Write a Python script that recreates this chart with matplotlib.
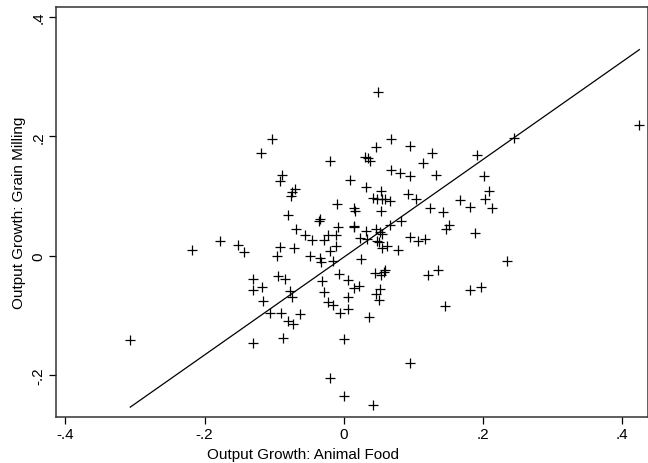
import matplotlib
matplotlib.use("Agg")
import matplotlib.pyplot as plt
import numpy as np

plt.rcParams['font.family'] = ['Liberation Sans', 'DejaVu Sans']

# output growth, animal food (x) vs grain milling (y)
animal_food = [
    -0.3068, -0.2177, -0.1774, -0.1520, -0.1432, -0.1305, -0.1305, -0.1178, -0.1167, -0.1307,
    -0.1032, -0.1185, -0.0888, -0.0922, -0.0697, -0.0747, -0.0761, -0.0807, -0.0338, -0.0359,
    -0.0687, -0.0553, -0.0457, -0.0290, -0.0233, -0.0111, -0.0115, -0.0912, -0.0721, -0.0194,
    -0.0960, -0.0481, -0.0338, -0.0330, -0.0151, -0.0941, -0.0841, -0.0316, -0.0290, -0.0769,
    -0.0744, -0.0223, -0.0158, -0.1063, -0.0898, -0.0625, -0.0800, -0.0726, -0.0874, -0.0204,
    -0.0003, -0.0098, -0.0194, -0.0089, -0.0065, -0.0057, 0.0000,
    0.0491, 0.0678, 0.0457, 0.0955, 0.0309, 0.0342, 0.0371, 0.1141, 0.0678, 0.0802,
    0.0945, 0.0093, 0.0312, 0.0534, 0.0424, 0.0481, 0.0546, 0.0586, 0.0658, 0.0915,
    0.1042, 0.0145, 0.0165, 0.0534, 0.0826, 0.0668, 0.0141, 0.0151,
    0.0467, 0.0316, 0.0517, 0.0553, 0.0237, 0.0330, 0.0481, 0.0503, 0.0546, 0.0621,
    0.0773, 0.0955, 0.1063, 0.1164, 0.0244, 0.0453, 0.0539, 0.0586, 0.0572, 0.0055,
    0.0141, 0.0213, 0.0055, 0.0055, 0.0467, 0.0519, 0.0500, 0.0356, 0.0955, 0.0424,
    0.1272, 0.1914, 0.2450, 0.4246, 0.1329, 0.2019, 0.2080, 0.2033, 0.2129, 0.1664,
    0.1818, 0.1233, 0.1420, 0.1516, 0.1473, 0.1889, 0.2345, 0.1207, 0.1348, 0.1810,
    0.1968, 0.1454,
]
grain_milling = [
    -0.1411, 0.0092, 0.0251, 0.0184, 0.0067, -0.0385, -0.0564, -0.0524, -0.0748, -0.1459,
    0.1953, 0.1719, 0.1356, 0.1260, 0.1121, 0.1066, 0.1009, 0.0678, 0.0624, 0.0581,
    0.0457, 0.0346, 0.0271, 0.0273, 0.0346, 0.0348, 0.0167, 0.0156, 0.0129, 0.0080,
    -0.0008, 0.0000, -0.0042, -0.0095, -0.0092, -0.0340, -0.0393, -0.0418, -0.0608, -0.0594,
    -0.0691, -0.0775, -0.0817, -0.0954, -0.0962, -0.0976, -0.1096, -0.1138, -0.1377, -0.2042,
    -0.2351, 0.0870, 0.1595, 0.0485, -0.0306, -0.0954, -0.1389,
    0.2745, 0.1958, 0.1824, 0.1844, 0.1652, 0.1645, 0.1593, 0.1556, 0.1443, 0.1396,
    0.1334, 0.1265, 0.1155, 0.1088, 0.0976, 0.0946, 0.0949, 0.0954, 0.0926, 0.1029,
    0.0946, 0.0810, 0.0758, 0.0753, 0.0582, 0.0512, 0.0507, 0.0480,
    0.0452, 0.0410, 0.0402, 0.0360, 0.0293, 0.0276, 0.0259, 0.0226, 0.0126, 0.0167,
    0.0100, 0.0313, 0.0251, 0.0285, -0.0050, -0.0293, -0.0318, -0.0234, -0.0268, -0.0407,
    -0.0541, -0.0502, -0.0681, -0.0887, -0.0631, -0.0557, -0.0740, -0.1013, -0.1791, -0.2499,
    0.1727, 0.1694, 0.1975, 0.2197, 0.1351, 0.1334, 0.1088, 0.0946, 0.0803, 0.0942,
    0.0828, 0.0803, 0.0736, 0.0519, 0.0459, 0.0385, -0.0092, -0.0318, -0.0243, -0.0577,
    -0.0514, -0.0845,
]
fit_slope = 0.818
fit_intercept = -0.002

tick_vals = [-0.4, -0.2, 0, 0.2, 0.4]
tick_labels = ["-.4", "-.2", "0", ".2", ".4"]
ytick_vals = [-0.2, 0, 0.2, 0.4]
ytick_labels = ["-.2", "0", ".2", ".4"]

fig = plt.figure(figsize=(6.48, 4.64), dpi=100)
ax = fig.add_axes([56 / 648, 46 / 464, 592 / 648, 410 / 464])

ax.plot(animal_food, grain_milling, '+', color='black', ms=6.5, mew=0.9)

xs = np.array([min(animal_food), max(animal_food)])
ax.plot(xs, fit_intercept + fit_slope * xs, color='black', lw=0.9)

ax.set_xlim(-0.4135, 0.437)
ax.set_ylim(-0.2695, 0.4167)
ax.set_xticks(tick_vals)
ax.set_xticklabels(tick_labels)
ax.set_yticks(ytick_vals)
ax.set_yticklabels(ytick_labels, rotation=90, va='center')
ax.tick_params(direction='out', length=5, width=0.9, colors='black', labelsize=11, pad=2.5)

for s in ax.spines.values():
    s.set_color('#333333')
    s.set_linewidth(1.1)

ax.set_xlabel("Output Growth: Animal Food", fontsize=11)
ax.xaxis.set_label_coords(0.417, -0.073)
ax.set_ylabel("Output Growth: Grain Milling", fontsize=11, labelpad=4)

fig.savefig("out.png", dpi=100)
